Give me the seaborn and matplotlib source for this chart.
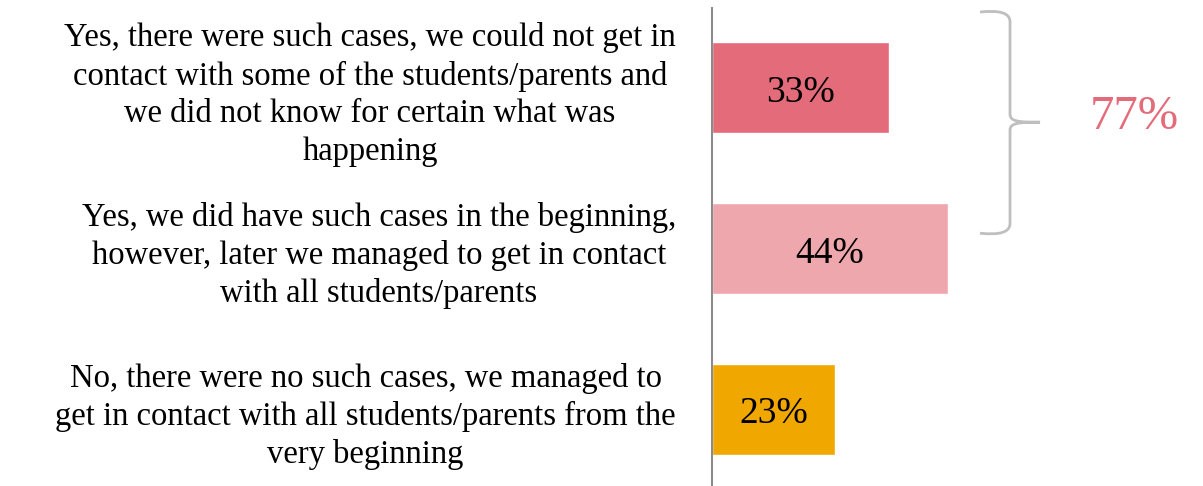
import numpy as np
import pandas as pd
import matplotlib.pyplot as plt
import seaborn as sns
from matplotlib.path import Path
from matplotlib.patches import PathPatch

# Answers and shares (%)
answers = [
    "Yes, there were such cases, we could not get in\ncontact with some of the students/parents and\nwe did not know for certain what was\nhappening",
    "Yes, we did have such cases in the beginning,\nhowever, later we managed to get in contact\nwith all students/parents",
    "No, there were no such cases, we managed to\nget in contact with all students/parents from the\nvery beginning",
]
shares = [33, 44, 23]
bar_colors = ["#E46C7A", "#EFA7AE", "#F0A800"]
total_label = "77%"

df = pd.DataFrame({"answer": answers, "share": shares})

sns.set_style("white")
plt.rcParams["font.family"] = ["Liberation Serif", "DejaVu Serif"]

fig = plt.figure(figsize=(12.03, 4.86), dpi=100)
ax = fig.add_axes([712 / 1203, 1 / 486, 491 / 1203, 477 / 486])

sns.barplot(data=df, y="answer", x="share", hue="answer", palette=bar_colors,
            orient="h", width=0.57, saturation=1, legend=False, ax=ax)

ax.set_xlim(0, 91.6)
ax.set_ylim(2.47, -0.495)
ax.set_xlabel("")
ax.set_ylabel("")
ax.set_xticks([])

# centred multi-line category labels
ax.set_yticks(range(len(answers)))
ax.set_yticklabels(answers, multialignment="center", linespacing=1.3,
                   fontsize=23.5, color="black")
ax.tick_params(axis="y", length=0, pad=26)

for s in ["top", "right", "bottom"]:
    ax.spines[s].set_visible(False)
ax.spines["left"].set_color("#8C8C8C")
ax.spines["left"].set_linewidth(1.5)

# value labels inside bars
for i, v in enumerate(shares):
    ax.text(v / 2, i + 0.03, f"{v}%", ha="center", va="center",
            fontsize=27, color="black")

# curly brace grouping the two "yes" answers
x0, x1, x2 = 50.0, 55.6, 61.2
yt, ym, yb = -0.47, 0.215, 0.905
verts = [
    (x0, yt), (x1, yt - 0.02), (x1, yt + 0.06),
    (x1, ym - 0.05),
    (x1, ym - 0.005), (x1 + 1.5, ym), (x2, ym),
    (x1 + 1.5, ym), (x1, ym + 0.005), (x1, ym + 0.05),
    (x1, yb - 0.06),
    (x1, yb + 0.02), (x0, yb),
]
codes = [Path.MOVETO, Path.CURVE3, Path.CURVE3,
         Path.LINETO,
         Path.CURVE4, Path.CURVE4, Path.CURVE4,
         Path.CURVE4, Path.CURVE4, Path.CURVE4,
         Path.LINETO,
         Path.CURVE3, Path.CURVE3]
brace = PathPatch(Path(verts, codes), facecolor="none", edgecolor="#BFBFBF",
                  linewidth=2, clip_on=False)
ax.add_patch(brace)

ax.text(78.8, 0.15, total_label, ha="center", va="center_baseline", fontsize=35,
        color="#E46C7A")

fig.savefig("out.png", dpi=100)
